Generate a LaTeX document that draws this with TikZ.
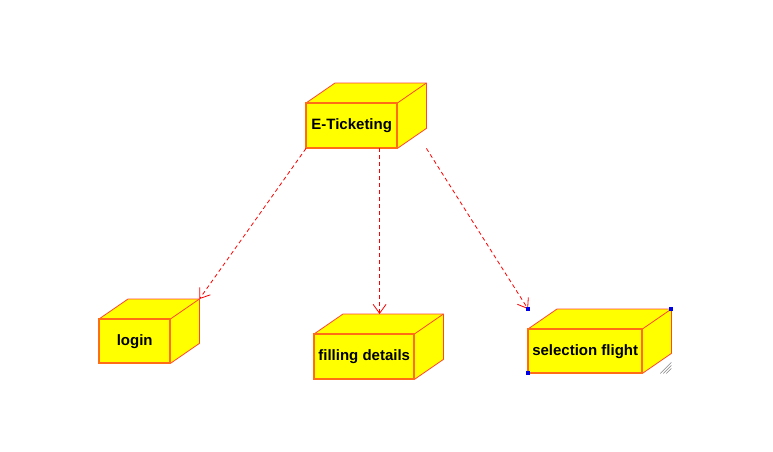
\documentclass[tikz,border=0pt]{standalone}
\usepackage{fontspec}
\setmainfont{Liberation Sans}
\usetikzlibrary{arrows.meta,calc}

\definecolor{boxfill}{RGB}{255,255,0}
\definecolor{frontedge}{RGB}{255,110,20}
\definecolor{backedge}{RGB}{255,70,50}
\definecolor{dep}{RGB}{255,0,0}
\definecolor{handle}{RGB}{0,0,230}

\tikzset{
  front/.style={draw=frontedge, fill=boxfill, line width=1.4pt, anchor=north west,
    inner sep=0pt, font=\fontsize{15}{17}\selectfont\bfseries},
  face/.style={draw=backedge, fill=boxfill, line width=0.8pt, line join=round},
  depend/.style={draw=dep, line width=0.8pt, dash pattern=on 4pt off 3pt,
    -{Straight Barb[length=9pt,width=13pt]}},
  grab/.style={fill=handle, draw=none}
}

% Top and side faces of a node box
\newcommand\depth[1]{%
  \filldraw[face] (#1.north west) -- ++(\dx,-\dy) coordinate (#1-bl)
    -- ($(#1.north east)+(\dx,-\dy)$) coordinate (#1-back)
    -- ($(#1.south east)+(\dx,-\dy)$) -- (#1.south east) -- (#1.north east) -- cycle;
  \draw[face, fill=none] (#1.north east) -- (#1-back);
}

\begin{document}
\begin{tikzpicture}[x=1pt, y=-1pt]

  % Definitions
  \def\dx{29}   % depth of the boxes, across
  \def\dy{20}   % depth of the boxes, up

  \useasboundingbox (0,0) rectangle (773,451);

  % Nodes
  \node [front, minimum width=90pt, minimum height=44pt] (eticket) at (306,103) {E-Ticketing};
  \node [front, minimum width=70pt, minimum height=43pt] (login) at (99,319) {login};
  \node [front, minimum width=99pt, minimum height=44pt] (filling) at (314,334) {filling details};
  \node [front, minimum width=113pt, minimum height=43pt] (select) at (528,329) {selection flight};

  \depth{eticket}
  \depth{login}
  \depth{filling}
  \depth{select}

  % Redraw the front faces over the depth faces
  \draw [draw=frontedge, line width=1.4pt] (eticket.south west) rectangle (eticket.north east);
  \draw [draw=frontedge, line width=1.4pt] (login.south west) rectangle (login.north east);
  \draw [draw=frontedge, line width=1.4pt] (filling.south west) rectangle (filling.north east);
  \draw [draw=frontedge, line width=1.4pt] (select.south west) rectangle (select.north east);

  % Dependencies
  \coordinate (mid) at ($(eticket.south west)!0.805!(eticket.south east)$);
  \coordinate (side) at ($(eticket.south east)+(\dx,0)$);
  \coordinate (corner) at (select.west |- select-back);

  \draw [depend] (eticket.south west) -- (login-back);
  \draw [depend] (mid) -- (mid |- filling-back);
  \draw [depend] (side) -- (corner);

  % Selection handles
  \fill [grab] ($(corner)+(-2,-2)$) rectangle ++(4,4);
  \fill [grab] ($(select-back)+(-2,-2)$) rectangle ++(4,4);
  \fill [grab] ($(select.south west)+(-2,-2)$) rectangle ++(4,4);
  \foreach \s in {0,3,6}
    \draw [gray, line width=0.6pt] ($(select-back |- select.south)+(-11+\s,0)$) -- ++(11-\s,-11+\s);

\end{tikzpicture}
\end{document}
